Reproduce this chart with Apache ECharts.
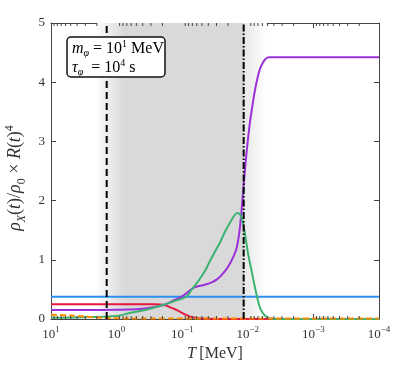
<!DOCTYPE html>
<html lang="en">
<head>
    <meta charset="UTF-8">
    <title>rho_X</title>
    <script src="https://cdn.jsdelivr.net/npm/echarts@6/dist/echarts.min.js"></script>
    <style>
        body { margin: 0; background: #fff; }
        #chart { width: 411px; height: 377px; }
    </style>
</head>
<body>
    <div id="chart"></div>
    <script>
        // x values are log10(T / MeV)
        var blueX = [1, -4];
        var blueY = [0.376, 0.376];

        var redX = [1, 0, -0.3, -0.55, -0.71, -0.81, -0.9, -0.97, -1.05, -1.12, -1.2, -1.3, -1.5, -4];
        var redY = [0.25, 0.25, 0.25, 0.248, 0.24, 0.2, 0.16, 0.12, 0.075, 0.04, 0.02, 0.008, 0.002, 0];

        var purpleX = [1, 0.5, 0, -0.3, -0.51, -0.66, -0.74, -0.86, -0.99, -1.08, -1.14, -1.2, -1.3, -1.38, -1.45, -1.53, -1.6, -1.68, -1.73, -1.77, -1.83, -1.88, -1.94, -1.98, -2.03, -2.07, -2.11, -2.15, -2.19, -2.23, -2.27, -2.32, -2.4, -4];
        var purpleY = [0.15, 0.15, 0.155, 0.165, 0.19, 0.22, 0.245, 0.31, 0.376, 0.45, 0.5, 0.54, 0.565, 0.59, 0.62, 0.67, 0.74, 0.85, 0.94, 1.03, 1.2, 1.55, 2.3, 2.8, 3.3, 3.6, 3.87, 4.08, 4.24, 4.33, 4.39, 4.42, 4.42, 4.42];

        var greenX = [1, 0.5, 0, -0.2, -0.5, -0.77, -0.9, -1.06, -1.14, -1.27, -1.35, -1.42, -1.5, -1.58, -1.65, -1.73, -1.79, -1.84, -1.88, -1.92, -1.96, -2.0, -2.06, -2.1, -2.14, -2.19, -2.26, -2.34, -2.5, -4];
        var greenY = [0.02, 0.03, 0.05, 0.1, 0.17, 0.26, 0.31, 0.376, 0.49, 0.68, 0.82, 0.97, 1.14, 1.3, 1.47, 1.63, 1.74, 1.79, 1.77, 1.65, 1.42, 1.13, 0.8, 0.58, 0.38, 0.18, 0.06, 0.01, 0, 0];

        var orangeX = [1, 0.8, 0.6, 0.4, 0.2, 0, -0.5, -4];
        var orangeY = [0.07, 0.065, 0.05, 0.032, 0.02, 0.012, 0.008, 0.008];

        var dashedLineX = 0.151;   // T ~ 1.4 MeV
        var dashDotLineX = -1.937; // T ~ 0.0116 MeV
        var yRange = [0, 5];
        var bandX = [0.3, -2.29];

        var minorMult = [2, 3, 4, 5, 6, 7, 8, 9];
        var decades = [-4, -3, -2, -1, 0];

        var boxText = '{i|m}{sub|φ}{r| = 10}{sup|1}{r| MeV}\n{i|τ}{sub|φ}{r|  = 10}{sup|4}{r| s}';

        function pairs(xs, ys) {
            return xs.map(function (x, i) { return [x, ys[i]]; });
        }

        var minorTicks = [];
        decades.forEach(function (d) {
            minorMult.forEach(function (m) { minorTicks.push([d + Math.log10(m), 0]); });
        });

        var serif = 'Liberation Serif';
        var fg = '#333';

        function expLabel(v) {
            var e = v < 0 ? '\u2212' + (-v) : String(v);
            return '{b|10}{s|' + e + '}';
        }

        var tickRich = {
            b: { fontFamily: serif, fontSize: 13, color: fg, lineHeight: 16, verticalAlign: 'bottom' },
            s: { fontFamily: serif, fontSize: 9, color: fg, lineHeight: 10, verticalAlign: 'top' }
        };

        function titleRich(size) {
            var small = Math.round(size * 0.65);
            return {
                i: { fontFamily: serif, fontStyle: 'italic', fontSize: size, color: fg, lineHeight: size + 6, verticalAlign: 'middle' },
                r: { fontFamily: serif, fontSize: size, color: fg, lineHeight: size + 6, verticalAlign: 'middle' },
                sub: { fontFamily: serif, fontStyle: 'italic', fontSize: small, color: fg, lineHeight: small + 2, verticalAlign: 'bottom' },
                subr: { fontFamily: serif, fontSize: small, color: fg, lineHeight: small + 2, verticalAlign: 'bottom' },
                sup: { fontFamily: serif, fontSize: small, color: fg, lineHeight: small + 2, verticalAlign: 'top' }
            };
        }

        var boxRich = {
            i: { fontFamily: serif, fontStyle: 'italic', fontSize: 16, color: '#222', lineHeight: 19, verticalAlign: 'middle' },
            r: { fontFamily: serif, fontSize: 16, color: '#222', lineHeight: 19, verticalAlign: 'middle' },
            sub: { fontFamily: serif, fontStyle: 'italic', fontSize: 10, color: '#222', lineHeight: 11, verticalAlign: 'bottom' },
            sup: { fontFamily: serif, fontSize: 10, color: '#222', lineHeight: 11, verticalAlign: 'top' }
        };

        var axisBase = {
            type: 'value',
            axisLine: { show: true, onZero: false, lineStyle: { color: '#444', width: 1 } },
            axisTick: { show: true, inside: true, length: 5, lineStyle: { color: '#444' } },
            splitLine: { show: false }
        };

        var chart = echarts.init(document.getElementById('chart'));
        var option = {
            animation: false,
            grid: { left: 51, right: 32, top: 23, bottom: 58, outerBoundsMode: 'none', containLabel: false },
            xAxis: [
                Object.assign({}, axisBase, {
                    position: 'bottom', min: -4, max: 1, interval: 1, inverse: true,
                    axisLabel: { margin: 6, formatter: expLabel, rich: tickRich },
                    name: '{i|T} {r|[MeV]}',
                    nameLocation: 'middle', nameGap: 24,
                    nameTextStyle: { rich: titleRich(16) }
                }),
                Object.assign({}, axisBase, {
                    position: 'top', min: -4, max: 1, interval: 1, inverse: true,
                    axisLabel: { show: false }
                })
            ],
            yAxis: [
                Object.assign({}, axisBase, {
                    position: 'left', min: 0, max: 5, interval: 1,
                    axisLabel: { margin: 6, fontFamily: serif, fontSize: 13, color: fg },
                    name: '{i|ρ}{sub|X}{r|(}{i|t}{r|)/}{i|ρ}{subr|0}{r| × }{i|R}{r|(}{i|t}{r|)}{sup|4}',
                    nameLocation: 'middle', nameGap: 18, nameRotate: 90,
                    nameTextStyle: { rich: titleRich(18), padding: [0, 14, 0, 0] }
                }),
                Object.assign({}, axisBase, {
                    position: 'right', min: 0, max: 5, interval: 1,
                    axisLabel: { show: false }
                })
            ],
            series: [
                {
                    type: 'line', name: 'blue', data: pairs(blueX, blueY),
                    showSymbol: false, z: 2,
                    lineStyle: { color: '#2b8ff0', width: 2 },
                    markArea: {
                        silent: true,
                        itemStyle: {
                            color: new echarts.graphic.LinearGradient(0, 0, 1, 0, [
                                { offset: 0, color: '#fbfbfb' },
                                { offset: 0.07, color: '#ececec' },
                                { offset: 0.165, color: '#d9d9d9' },
                                { offset: 0.862, color: '#d9d9d9' },
                                { offset: 0.87, color: '#e8e8e8' },
                                { offset: 1, color: '#ffffff' }
                            ])
                        },
                        data: [[{ xAxis: bandX[0] }, { xAxis: bandX[1] }]]
                    }
                },
                {
                    type: 'line', name: 'red', data: pairs(redX, redY),
                    showSymbol: false, smooth: 0.4, z: 3,
                    lineStyle: { color: '#e8173f', width: 2 }
                },
                {
                    type: 'line', name: 'purple', data: pairs(purpleX, purpleY),
                    showSymbol: false, smooth: 0.4, z: 4,
                    lineStyle: { color: '#9b30d9', width: 2 }
                },
                {
                    type: 'line', name: 'green', data: pairs(greenX, greenY),
                    showSymbol: false, smooth: 0.4, z: 5,
                    lineStyle: { color: '#3cb371', width: 2 }
                },
                {
                    type: 'line', name: 'orange', data: pairs(orangeX, orangeY),
                    showSymbol: false, smooth: 0.4, z: 6,
                    lineStyle: { color: '#ff8c00', width: 2, type: [6, 3] }
                },
                {
                    type: 'line', name: 'dashed', z: 7, showSymbol: false, silent: true,
                    data: [[dashedLineX, yRange[0]], [dashedLineX, yRange[1]]],
                    lineStyle: { color: '#000', width: 2, type: [7, 4] }
                },
                {
                    type: 'line', name: 'dashdot', z: 7, showSymbol: false, silent: true,
                    data: [[dashDotLineX, yRange[0]], [dashDotLineX, yRange[1]]],
                    lineStyle: { color: '#000', width: 2, type: [7, 2, 1.5, 2] }
                },
                {
                    type: 'custom', name: 'minor', data: minorTicks, z: 9, silent: true,
                    renderItem: function (params, api) {
                        var b = api.coord([api.value(0), yRange[0]]);
                        var t = api.coord([api.value(0), yRange[1]]);
                        var st = { stroke: '#444', lineWidth: 1 };
                        return {
                            type: 'group',
                            children: [
                                { type: 'line', shape: { x1: b[0], y1: b[1], x2: b[0], y2: b[1] - 3 }, style: st },
                                { type: 'line', shape: { x1: t[0], y1: t[1], x2: t[0], y2: t[1] + 3 }, style: st }
                            ]
                        };
                    }
                },
                {
                    // annotation box, above the vertical lines
                    type: 'custom', name: 'box', data: [[0, 0]], z: 20, silent: true,
                    renderItem: function () {
                        return {
                            type: 'group',
                            children: [{
                                type: 'rect',
                                shape: { x: 67, y: 37, width: 98, height: 40, r: 4 },
                                style: { fill: '#fff', stroke: '#111', lineWidth: 1.5 }
                            }, {
                                type: 'text',
                                x: 72, y: 39,
                                style: { text: boxText, rich: boxRich }
                            }]
                        };
                    }
                }
            ]
        };
        chart.setOption(option);
    </script>
</body>
</html>
